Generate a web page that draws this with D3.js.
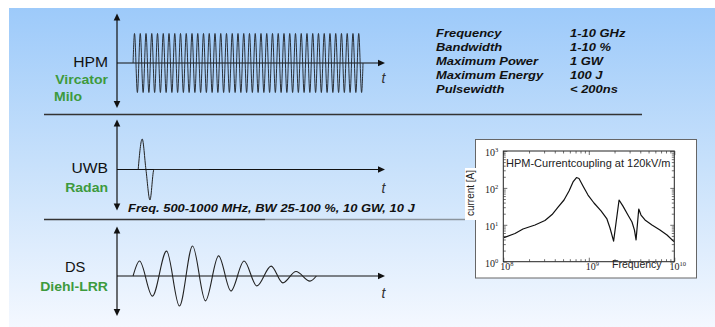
<!DOCTYPE html>
<html><head><meta charset="utf-8">
<script src="https://cdn.jsdelivr.net/npm/d3@7"></script>
<style>body{margin:0;overflow:hidden;background:#fff} svg{display:block}</style>
</head><body>
<svg id="c" width="715" height="327"></svg>
<script>
// ---------------- data ----------------
const panelNames = ["HPM", "UWB", "DS"];
const panelSources = [["Vircator", "Milo"], ["Radan"], ["Diehl-LRR"]];

// HPM: narrow-band burst, alternating extrema (normalised amplitude)
const hpmSpan = [6.0, 91.8];               // start / end time (arb. units)
const hpmExtrema = [1,-1,1,-1,1,-1,1,-1,1,-1,1,-1,1,-1,1,-1,1,-1,1,-1,
                    1,-1,1,-1,1,-1,1,-1,1,-1,1,-1,1,-1,1,-1,1,-1,1,-1,
                    1,-1,1,-1,1,-1,1,-1,1,-1,1,-1,1,-1,1,-1,1,-1,1,-1,
                    1,-1,1,-1,1,-1,1,-1,1,-1,1,-1,1,-1,1,-1,1,-1,1,-1];

// UWB: single cycle pulse
const uwbTime = [7.9, 9.4, 10.8, 12.3, 13.8, 30.6];
const uwbAmp  = [0,   1,   0,   -1,   0,    0];

// DS: damped sinusoid
const dsTime = [6.0, 8.4, 13.2, 18.5, 23.3, 28.2, 33.0, 37.9, 42.5, 47.4, 52.2, 57.5, 61.9, 66.8, 72.0, 74.4];
const dsAmp  = [0, 0.5, -0.67, 0.83, -1, 1, -0.83, 0.67, -0.5, 0.5, -0.33, 0.33, -0.23, 0.15, -0.17, 0];

// HPM specification table
const specLabels = ["Frequency", "Bandwidth", "Maximum Power", "Maximum Energy", "Pulsewidth"];
const specValues = ["1-10 GHz", "1-10 %", "1 GW", "100 J", "< 200ns"];
const uwbSpec = "Freq. 500-1000 MHz, BW 25-100 %, 10 GW, 10 J";

// Inset: HPM current coupling at 120 kV/m
const insetTitle = "HPM-Currentcoupling at 120kV/m";
const couplingFreq = [1.02e8,1.37e8,1.70e8,2.35e8,3.07e8,3.72e8,4.37e8,5.13e8,5.87e8,6.54e8,7.18e8,7.68e8,8.55e8,9.79e8,
                      1.15e9,1.39e9,1.63e9,1.77e9,1.95e9,2.26e9,2.51e9,2.87e9,3.20e9,3.42e9,3.57e9,3.84e9,4.08e9,4.54e9,
                      5.48e9,6.80e9,8.22e9,9.9e9];
const couplingCurrent = [4.5,5.8,7.7,9.9,13.1,19,30,47,82,145,191,180,113,64,
                         39,23.7,14.4,8.2,3.6,47,32,18.4,11.9,7.2,3.9,26.8,18.4,13.5,
                         9.9,7.2,5.3,3.5];
const freqTicks = [1e8, 1e9, 1e10];
const currentTicks = [1, 10, 100, 1000];

// ---------------- drawing ----------------
const svg = d3.select("#c");
const defs = svg.append("defs");
const grad = defs.append("linearGradient").attr("id","bg").attr("x1",0).attr("y1",0).attr("x2",0).attr("y2",1);
grad.append("stop").attr("offset","0%").attr("stop-color","#9dcafa");
grad.append("stop").attr("offset","50%").attr("stop-color","#c8e1fb");
grad.append("stop").attr("offset","100%").attr("stop-color","#f4f8ff");
svg.append("rect").attr("x",9).attr("y",8).attr("width",706).attr("height",319).attr("fill","url(#bg)");

const SANS = "'Liberation Sans', Arial, sans-serif";
const SERIF = "'Liberation Serif', 'Times New Roman', serif";
const GREEN = "#3d9a3d";

function label(x, y, txt, o) {
  o = o || {};
  return svg.append("text")
    .attr("transform", `translate(${x},${y}) scale(${o.sx || 1},1)`)
    .attr("text-anchor", o.anchor || "start")
    .attr("font-family", o.family || SANS)
    .attr("font-size", o.size || 12)
    .attr("font-weight", o.bold ? "bold" : "normal")
    .attr("font-style", o.italic ? "italic" : "normal")
    .attr("fill", o.color || "#111")
    .text(txt);
}

// separators
svg.append("line").attr("x1",44).attr("x2",642).attr("y1",114.5).attr("y2",114.5).attr("stroke","#333").attr("stroke-width",1.3);
svg.append("line").attr("x1",44).attr("x2",265).attr("y1",219.5).attr("y2",219.5).attr("stroke","#333").attr("stroke-width",1.3);
svg.append("line").attr("x1",265).attr("x2",465).attr("y1",219.5).attr("y2",219.5).attr("stroke","#8a939c").attr("stroke-width",1.3);

// time scale shared by all panels
const xT = d3.scaleLinear().domain([0, 100]).range([117, 385]);

const panels = [
  {base: 63,    top: 13.5,  bottom: 108, amp: 29.5, labelY: 66.7, srcY: [84, 100.7], tY: 82.5},
  {base: 169.5, top: 119.5, bottom: 210.5, amp: 30.5, labelY: 173.3, srcY: [191.5], tY: 193},
  {base: 276,   top: 226.5, bottom: 316, amp: 30,   labelY: 271.7, srcY: [291], tY: 298}
];

function arrowHead(x, y, dir) {
  const s = 3.3, l = 7;
  let pts;
  if (dir === "up") pts = [[x, y], [x - s, y + l], [x + s, y + l]];
  else if (dir === "down") pts = [[x, y], [x - s, y - l], [x + s, y - l]];
  else pts = [[x, y], [x - l, y - s], [x - l, y + s]];
  svg.append("path").attr("d", "M" + pts.join("L") + "Z").attr("fill", "#111");
}

panels.forEach((p, i) => {
  const y = d3.scaleLinear().domain([-1, 1]).range([p.base + p.amp, p.base - p.amp]);
  p.y = y;
  // axes
  svg.append("line").attr("x1", xT(0)).attr("x2", xT(0)).attr("y1", p.top + 5).attr("y2", p.bottom - 5).attr("stroke", "#111").attr("stroke-width", 1.2);
  arrowHead(xT(0), p.top, "up");
  arrowHead(xT(0), p.bottom, "down");
  svg.append("line").attr("x1", xT(0)).attr("x2", xT(100) - 5).attr("y1", y(0)).attr("y2", y(0)).attr("stroke", "#111").attr("stroke-width", 1.2);
  arrowHead(xT(100), y(0), "right");
  label(383.5, p.tY, "t", {italic: true, size: 14, anchor: "middle", color: "#333"});
  // labels
  if (i === 2) label(65, p.labelY, panelNames[i], {size: 14, sx: 1.05});
  else label(108, p.labelY, panelNames[i], {size: 14, sx: 1.12, anchor: "end"});
  panelSources[i].forEach((s, k) => {
    if (i === 0 && k === 1) label(54, p.srcY[k], s, {size: 12, bold: true, color: GREEN, sx: 1.17});
    else label(108, p.srcY[k], s, {size: 12, bold: true, color: GREEN, sx: 1.17, anchor: "end"});
  });
});

const wave = (xs, ys, yScale) => d3.line().x((d, i) => xT(xs[i])).y((d, i) => yScale(ys[i])).curve(d3.curveMonotoneX)(xs);

// HPM waveform
{
  const band = d3.scaleBand().domain(d3.range(hpmExtrema.length)).range([xT(hpmSpan[0]), xT(hpmSpan[1])]);
  const pts = [[xT(hpmSpan[0]), 0]].concat(hpmExtrema.map((v, i) => [band(i) + band.bandwidth() / 2, v]), [[xT(hpmSpan[1]), 0]]);
  const y = panels[0].y;
  svg.append("path").attr("d", d3.line().x(d => d[0]).y(d => y(d[1])).curve(d3.curveMonotoneX)(pts))
    .attr("fill", "none").attr("stroke", "#2a2f36").attr("stroke-width", 1);
}
// UWB
svg.append("path").attr("d", wave(uwbTime, uwbAmp, panels[1].y)).attr("fill", "none").attr("stroke", "#222").attr("stroke-width", 1);
// DS
svg.append("path").attr("d", wave(dsTime, dsAmp, panels[2].y)).attr("fill", "none").attr("stroke", "#222").attr("stroke-width", 1.1);

// spec table
specLabels.forEach((s, i) => {
  label(436, 36.7 + i * 14, s, {size: 10.8, bold: true, italic: true, sx: 1.2});
  label(570, 36.7 + i * 14, specValues[i], {size: 10.8, bold: true, italic: true, sx: 1.2});
});
label(128, 211.7, uwbSpec, {size: 10.8, bold: true, italic: true, sx: 1.2});

// ---------------- inset ----------------
svg.append("rect").attr("x", 475.5).attr("y", 139.5).attr("width", 221).attr("height", 138.5).attr("fill", "#fff").attr("stroke", "#666").attr("stroke-width", 1);
svg.append("rect").attr("x", 465).attr("y", 168).attr("width", 15).attr("height", 52).attr("fill", "#fff");

const fx = d3.scaleLog().domain([1e8, 1e10]).range([503.3, 674.3]);
const fy = d3.scaleLog().domain([1, 1000]).range([261.7, 151]);
const g = svg.append("g");
g.append("rect").attr("x", fx.range()[0]).attr("y", fy.range()[1]).attr("width", fx.range()[1] - fx.range()[0]).attr("height", fy.range()[0] - fy.range()[1])
  .attr("fill", "none").attr("stroke", "#222").attr("stroke-width", 1);

const minorF = [], minorI = [];
for (let e = 8; e < 10; e++) for (let m = 2; m <= 9; m++) minorF.push(m * Math.pow(10, e));
for (let e = 0; e < 3; e++) for (let m = 2; m <= 9; m++) minorI.push(m * Math.pow(10, e));

function ticks(axisFn, scale, vals, size, transform) {
  const a = g.append("g").attr("transform", transform)
    .call(axisFn(scale).tickValues(vals).tickSize(size).tickFormat(""));
  a.select(".domain").remove();
  a.selectAll("line").attr("stroke", "#333").attr("stroke-width", 0.7);
}
const X0 = fx.range()[0], X1 = fx.range()[1], Y0 = fy.range()[0], Y1 = fy.range()[1];
ticks(d3.axisBottom, fx, minorF, -2.5, `translate(0,${Y0})`);
ticks(d3.axisTop, fx, minorF, -2.5, `translate(0,${Y1})`);
ticks(d3.axisLeft, fy, minorI, -2.5, `translate(${X0},0)`);
ticks(d3.axisRight, fy, minorI, -2.5, `translate(${X1},0)`);
ticks(d3.axisBottom, fx, freqTicks, -4, `translate(0,${Y0})`);
ticks(d3.axisTop, fx, freqTicks, -4, `translate(0,${Y1})`);
ticks(d3.axisLeft, fy, currentTicks, -4, `translate(${X0},0)`);
ticks(d3.axisRight, fy, currentTicks, -4, `translate(${X1},0)`);

function pow10Label(sel) {
  sel.each(function(d) {
    const t = d3.select(this).text("");
    t.append("tspan").text("10");
    t.append("tspan").attr("dy", -4).attr("font-size", 6.5).text(Math.round(Math.log10(d)));
  });
}
const xl = g.append("g").attr("transform", `translate(0,${Y0})`)
  .call(d3.axisBottom(fx).tickValues(freqTicks).tickSize(0).tickPadding(1.5).tickFormat(d => d));
xl.select(".domain").remove();
xl.selectAll("text").attr("font-family", SERIF).attr("font-size", 10).attr("fill", "#222").attr("dx", 3).call(pow10Label);

const yl = g.append("g").attr("transform", `translate(${X0},0)`)
  .call(d3.axisLeft(fy).tickValues(currentTicks).tickSize(0).tickPadding(5).tickFormat(d => d));
yl.select(".domain").remove();
yl.selectAll("text").attr("font-family", SERIF).attr("font-size", 10).attr("fill", "#222").attr("dy", "0.45em").call(pow10Label);

g.append("text").attr("x", 612).attr("y", 268).attr("font-family", SANS).attr("font-size", 10.5).attr("fill", "#222").text("Frequency");
g.append("text").attr("transform", "translate(473.5,193) rotate(-90)").attr("text-anchor", "middle").attr("font-family", SANS).attr("font-size", 10).attr("fill", "#222").text("current [A]");
g.append("text").attr("x", 506).attr("y", 167.3).attr("font-family", SANS).attr("font-size", 11).attr("fill", "#222").text(insetTitle);

g.append("path")
  .attr("d", d3.line().x((d, i) => fx(couplingFreq[i])).y((d, i) => fy(couplingCurrent[i]))(couplingFreq))
  .attr("fill", "none").attr("stroke", "#111").attr("stroke-width", 1.2).attr("stroke-linejoin", "round");
</script>
</body></html>
